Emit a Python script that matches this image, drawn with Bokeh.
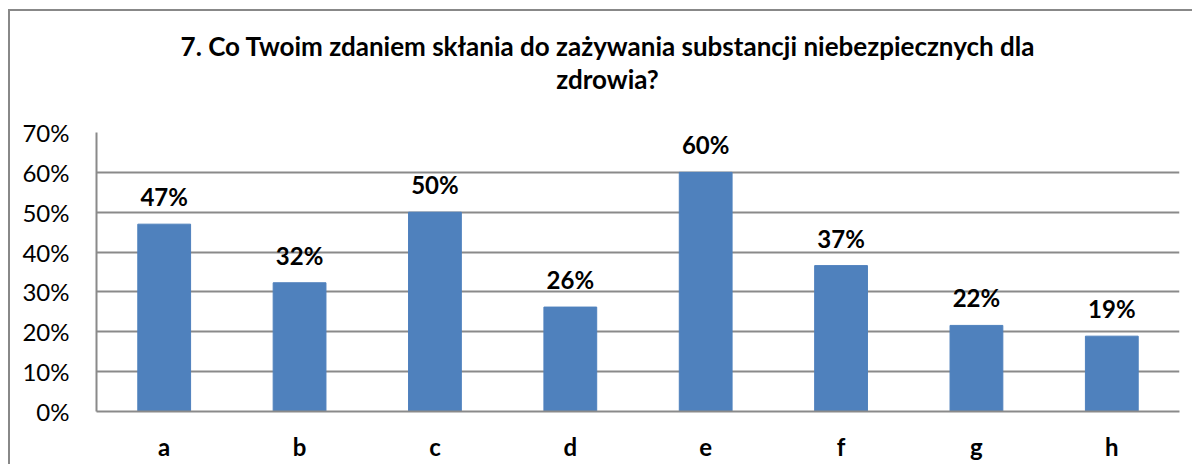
from bokeh.plotting import figure
from bokeh.models import ColumnDataSource, NumeralTickFormatter, FixedTicker, Range1d, Div
from bokeh.layouts import column
from bokeh.core.properties import value
from bokeh.embed import file_html
from bokeh.resources import INLINE

categories = ["a", "b", "c", "d", "e", "f", "g", "h"]
values = [0.47, 0.323, 0.50, 0.262, 0.60, 0.366, 0.216, 0.189]
labels = ["47%", "32%", "50%", "26%", "60%", "37%", "22%", "19%"]
y_ticks = [0.0, 0.1, 0.2, 0.3, 0.4, 0.5, 0.6, 0.7]
title_lines = ["7. Co Twoim zdaniem skłania do zażywania substancji niebezpiecznych dla", "zdrowia?"]

FONT = "Lato"
GRID = "#8a8a8a"
source = ColumnDataSource(dict(cat=categories, val=values, lab=labels))

title = Div(text="<br>".join(title_lines), width=1184, height=105, margin=0,
            styles={"font-family": FONT, "font-weight": "bold", "font-size": "26px",
                    "line-height": "33px", "text-align": "center", "color": "black",
                    "padding-top": "19px", "padding-left": "11px", "box-sizing": "border-box",
                    "background": "white"})

p = figure(x_range=categories, y_range=Range1d(0, 0.70), width=1184, height=350,
           output_backend="svg", toolbar_location=None, margin=0,
           min_border_left=86, min_border_right=15, min_border_top=16, min_border_bottom=55)
p.x_range.range_padding = 0
p.background_fill_color = "white"
p.border_fill_color = "white"
p.outline_line_color = None

p.vbar(x="cat", top="val", width=0.39, source=source, fill_color="#4F81BD", line_color="#4F81BD")
p.text(x="cat", y="val", text="lab", source=source, y_offset=-13,
       text_align="center", text_baseline="bottom", text_font=value(FONT),
       text_font_style="bold", text_font_size="24px", text_color="black")

p.yaxis.ticker = FixedTicker(ticks=y_ticks)
p.yaxis.formatter = NumeralTickFormatter(format="0%")
p.yaxis.major_label_text_font = FONT
p.yaxis.major_label_text_font_size = "24px"
p.yaxis.major_label_text_color = "black"
p.yaxis.major_label_standoff = 21
p.yaxis.axis_line_color = GRID
p.yaxis.axis_line_width = 2
p.yaxis.major_tick_line_color = None
p.yaxis.minor_tick_line_color = None

p.xaxis.major_label_text_font = FONT
p.xaxis.major_label_text_font_style = "bold"
p.xaxis.major_label_text_font_size = "24px"
p.xaxis.major_label_text_color = "black"
p.xaxis.major_label_standoff = 14
p.xaxis.axis_line_color = GRID
p.xaxis.axis_line_width = 2
p.xaxis.major_tick_line_color = None
p.xaxis.minor_tick_line_color = None

p.xgrid.grid_line_color = None
p.ygrid.grid_line_color = GRID
p.ygrid.grid_line_width = 2

layout = column(title, p, spacing=0,
                styles={"box-shadow": "-2px -2px 0 0 #888888",
                        "margin-top": "11px", "margin-left": "10px"})

open("out.html", "w").write(file_html(layout, INLINE))
